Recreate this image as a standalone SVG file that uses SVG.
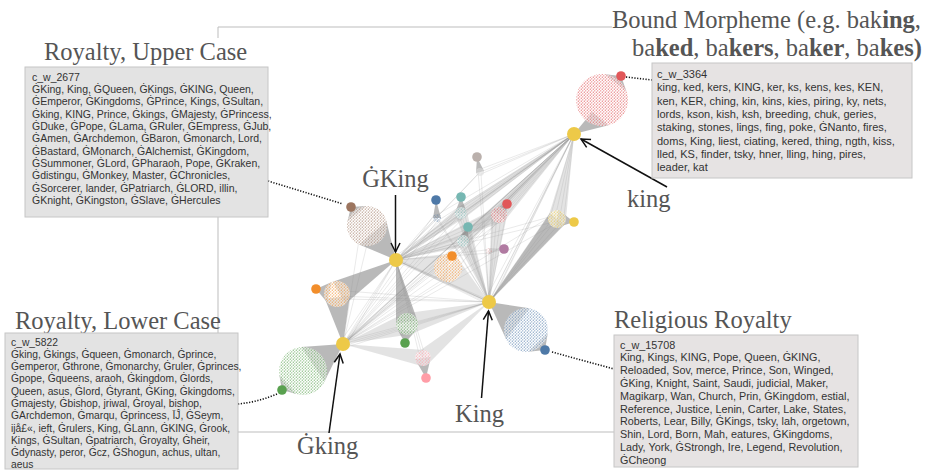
<svg xmlns="http://www.w3.org/2000/svg" width="926" height="470" viewBox="0 0 926 470">
<style>
.e{stroke:#8c8c8c;stroke-opacity:0.3;stroke-width:0.6;fill:none}
.cone{fill:#8a8a8a;fill-opacity:0.6}
.cone2{fill:#9a9a9a;fill-opacity:0.28}
.bg{fill:#fff;fill-opacity:0.6}
.box{fill:#e3e3e3;stroke:#c6c6c6;stroke-width:1}
.box2{fill:#e6e3e3;stroke:#c6c6c6;stroke-width:1}
.bt{font-family:"Liberation Sans",Arial,Helvetica,sans-serif;fill:#333}
.title{font-family:"Liberation Serif","Times New Roman",serif;font-size:24.5px;fill:#555}
.arrow{stroke:#111;stroke-width:1.5;fill:none;marker-end:url(#ah)}
.dotl{stroke:#111;stroke-width:1.6;stroke-dasharray:1.2 1.6;fill:none}
.frame{stroke:#bdbdbd;stroke-width:1;fill:none}
.hub{fill:#edc948}
</style>
<defs>
<marker id="ah" markerWidth="12" markerHeight="12" refX="10" refY="6" orient="auto" markerUnits="userSpaceOnUse">
<path d="M1,1.5 L10,6 L1,10.5" fill="none" stroke="#111" stroke-width="1.5"/>
</marker>
<pattern id="p-red" width="3" height="3" patternUnits="userSpaceOnUse"><circle cx="0.8" cy="0.8" r="0.6" fill="#e15759"/><circle cx="2.3" cy="2.2" r="0.6" fill="#e15759"/></pattern>
<pattern id="p-brown" width="3" height="3" patternUnits="userSpaceOnUse"><circle cx="0.8" cy="0.8" r="0.6" fill="#9c755f"/><circle cx="2.3" cy="2.2" r="0.6" fill="#9c755f"/></pattern>
<pattern id="p-orange" width="3" height="3" patternUnits="userSpaceOnUse"><circle cx="0.8" cy="0.8" r="0.6" fill="#f28e2b"/><circle cx="2.3" cy="2.2" r="0.6" fill="#f28e2b"/></pattern>
<pattern id="p-green" width="3" height="3" patternUnits="userSpaceOnUse"><circle cx="0.8" cy="0.8" r="0.6" fill="#59a14f"/><circle cx="2.3" cy="2.2" r="0.6" fill="#59a14f"/></pattern>
<pattern id="p-blue" width="3" height="3" patternUnits="userSpaceOnUse"><circle cx="0.8" cy="0.8" r="0.6" fill="#4e79a7"/><circle cx="2.3" cy="2.2" r="0.6" fill="#4e79a7"/></pattern>
<pattern id="p-pink" width="3" height="3" patternUnits="userSpaceOnUse"><circle cx="0.8" cy="0.8" r="0.6" fill="#ff9da7"/><circle cx="2.3" cy="2.2" r="0.6" fill="#ff9da7"/></pattern>
<pattern id="p-yellow" width="3" height="3" patternUnits="userSpaceOnUse"><circle cx="0.8" cy="0.8" r="0.6" fill="#edc948"/><circle cx="2.3" cy="2.2" r="0.6" fill="#edc948"/></pattern>
<pattern id="p-teal" width="3" height="3" patternUnits="userSpaceOnUse"><circle cx="0.8" cy="0.8" r="0.6" fill="#76b7b2"/><circle cx="2.3" cy="2.2" r="0.6" fill="#76b7b2"/></pattern>
</defs>
<rect width="926" height="470" fill="#fff"/>

<g id="frame">
<path class="frame" d="M218,27 H612 M218,27 V38 M218,217 V333 M238,432 H614"/>
</g>

<g id="connectors">
<path class="e" d="M574,134 L478,170 M574,134 L481,174 M574,134 L483,171 M574,134 L458,210 M574,134 L462,214 M574,134 L465,216 M574,134 L435,216 M574,134 L439,220 M574,134 L460,238 M574,134 L464,242 M574,134 L466,244 M574,134 L495,212 M574,134 L500,216 M574,134 L503,219 M574,134 L551,214 M574,134 L555,218 M574,134 L559,222 M574,134 L563,224 M574,134 L394,257 M574,134 L396,260 M574,134 L398,262 M574,134 L392,262 M574,134 L400,258 M574,134 L486,298 M574,134 L489,302 M574,134 L492,300 M574,134 L487,305 M574,134 L491,304 M574,134 L442,264 M574,134 L448,268 M574,134 L452,274 M574,134 L343,344 M574,134 L346,340 M574,134 L340,346"/>
<path class="e" d="M396,260 L478,174 M396,260 L482,170 M396,260 L458,210 M396,260 L461,213 M396,260 L464,216 M396,260 L434,216 M396,260 L437,219 M396,260 L440,221 M396,260 L460,238 M396,260 L463,241 M396,260 L466,244 M396,260 L494,211 M396,260 L499,215 M396,260 L503,219 M396,260 L486,250 M396,260 L490,253 M396,260 L486,299 M396,260 L489,302 M396,260 L492,305 M396,260 L487,304 M396,260 L419,354 M396,260 L423,358 M396,260 L427,362 M396,260 L341,341 M396,260 L343,344 M396,260 L345,347 M396,260 L553,216 M396,260 L558,221"/>
<path class="e" d="M489,302 L550,213 M489,302 L554,217 M489,302 L557,219 M489,302 L561,222 M489,302 L564,225 M489,302 L493,210 M489,302 L497,214 M489,302 L501,217 M489,302 L505,219 M489,302 L457,209 M489,302 L461,213 M489,302 L465,216 M489,302 L459,238 M489,302 L463,241 M489,302 L467,244 M489,302 L486,249 M489,302 L489,252 M489,302 L492,254 M489,302 L478,171 M489,302 L481,174 M489,302 L346,341 M489,302 L343,344 M489,302 L340,347 M489,302 L344,348 M489,302 L393,257 M489,302 L396,260 M489,302 L399,263 M489,302 L333,290 M489,302 L338,296 M489,302 L342,299 M489,302 L435,216 M489,302 L439,220"/>
<path class="e" d="M343,344 L457,210 M343,344 L461,213 M343,344 L464,217 M343,344 L459,238 M343,344 L463,241 M343,344 L467,244 M343,344 L434,215 M343,344 L438,220 M343,344 L495,211 M343,344 L499,215 M343,344 L503,219 M343,344 L553,215 M343,344 L558,222 M343,344 L442,262 M343,344 L448,268 M343,344 L453,273 M343,344 L362,220 M343,344 L370,232"/>
<polygon class="cone2" points="396,260 445.9,281.8 450.1,254.2"/>
<polygon class="cone2" points="489,302 456.9,257.2 439.1,278.8"/>
<polygon class="cone" points="396,260 332.8,281.7 345.5,303.8"/>
<polygon class="cone" points="343,344 349.9,295.8 324.9,298.8"/>
<polygon class="cone" points="396,260 396,324 417.4,320.4"/>
<polygon class="cone2" points="489,302 404.2,313.4 409.8,334.6"/>
<polygon class="cone2" points="343,344 410.3,334.5 403.7,313.5"/>
<polygon class="cone2" points="343,344 421.6,365.9 424.4,350.1"/>
<polygon class="cone2" points="489,302 417.8,351.9 428.2,364.1"/>
<polygon class="cone" points="489,302 564,224.7 550,213.3"/>
<polygon class="cone2" points="574,134 548.2,217.2 565.8,220.8"/>
<polygon class="cone2" points="489,302 506.9,215.9 491.1,214.1"/>
<polygon class="cone2" points="574,134 493.1,209.6 504.9,220.4"/>
<polygon class="cone2" points="396,260 502.2,222.3 495.8,207.7"/>
<polygon class="cone2" points="396,260 464.5,217.9 457.5,208.1"/>
<polygon class="cone2" points="574,134 457.6,208.1 464.4,217.9"/>
<polygon class="cone2" points="489,302 466.7,211.2 455.3,214.8"/>
<polygon class="cone2" points="396,260 464.6,246.8 461.4,235.2"/>
<polygon class="cone2" points="574,134 458.8,236.7 467.2,245.3"/>
<polygon class="cone2" points="489,302 468.5,238.6 457.5,243.4"/>
<polygon class="cone" points="574,134 608.4,125.2 576,98.5 592,112"/>
<polygon class="cone" points="396,260 386.4,221.2 359.2,244.4"/>
<polygon class="cone" points="489,302 506,339.1 529.4,308.3"/>
<polygon class="cone" points="343,344 301.3,347 324.5,381.6"/>
</g>

<g id="cluster-red">
<polygon class="cone" points="621,76 605,74.2 626.4,91.2"/>
<circle class="bg" cx="602" cy="100" r="26"/><circle cx="602" cy="100" r="26" fill="url(#p-red)" opacity="0.95"/>
<circle cx="621" cy="76" r="4.8" fill="#e15759"/>
</g>
<g id="cluster-brown">
<polygon class="cone" points="351,207 347.5,221.2 365.7,206"/>
<circle class="bg" cx="367" cy="226" r="20"/><circle cx="367" cy="226" r="20" fill="url(#p-brown)" opacity="0.85"/>
<circle cx="351" cy="207" r="4.8" fill="#9c755f"/>
</g>
<g id="cluster-orange-mid">
<circle class="bg" cx="448" cy="268" r="14"/><circle cx="448" cy="268" r="14" fill="url(#p-orange)" opacity="0.9"/>
<circle cx="452" cy="256" r="4.8" fill="#f28e2b"/>
</g>
<g id="cluster-orange-left">
<polygon class="cone" points="316,289 327,302.3 331.8,282.1"/>
<circle class="bg" cx="337" cy="294" r="13"/><circle cx="337" cy="294" r="13" fill="url(#p-orange)" opacity="0.9"/>
<circle cx="316" cy="289" r="4.8" fill="#f28e2b"/>
</g>
<g id="cluster-green-mid">
<polygon class="cone" points="405,343 415.2,331.2 397.4,329.4"/>
<circle class="bg" cx="407" cy="324" r="11"/><circle cx="407" cy="324" r="11" fill="url(#p-green)" opacity="0.9"/>
<circle cx="405" cy="343" r="4.8" fill="#59a14f"/>
</g>
<g id="cluster-blue-right">
<polygon class="cone" points="545,350 547.7,333.6 528.5,351.8"/>
<circle class="bg" cx="526" cy="330" r="22"/><circle cx="526" cy="330" r="22" fill="url(#p-blue)" opacity="0.85"/>
<circle cx="545" cy="350" r="4.8" fill="#4e79a7"/>
</g>
<g id="cluster-green-big">
<polygon class="cone" points="282,390 296.4,394.1 279.4,375.3"/>
<circle class="bg" cx="303" cy="371" r="24"/><circle cx="303" cy="371" r="24" fill="url(#p-green)" opacity="0.9"/>
<circle cx="282" cy="390" r="4.8" fill="#59a14f"/>
</g>
<g id="cluster-pink">
<polygon class="cone" points="426,378 430.9,356.8 415.1,359.2"/>
<circle class="bg" cx="423" cy="358" r="8"/><circle cx="423" cy="358" r="8" fill="url(#p-pink)" opacity="0.95"/>
<circle cx="426" cy="378" r="4.8" fill="#ff9da7"/>
</g>
<g id="cluster-yellow">
<polygon class="cone" points="574,222 558.6,210.1 555.4,227.9"/>
<circle class="bg" cx="557" cy="219" r="9"/><circle cx="557" cy="219" r="9" fill="url(#p-yellow)" opacity="0.95"/>
<circle cx="574" cy="222" r="4.8" fill="#edc948"/>
</g>
<g id="cluster-red-small">
<polygon class="cone" points="507,204 492.5,210.3 505.5,219.7"/>
<circle class="bg" cx="499" cy="215" r="8"/><circle cx="499" cy="215" r="8" fill="url(#p-red)" opacity="0.9"/>
<circle cx="507" cy="204" r="4.8" fill="#e15759"/>
</g>
<g id="cluster-teal-1">
<polygon class="cone" points="461,197 455,213 467,213"/>
<circle class="bg" cx="461" cy="213" r="6"/><circle cx="461" cy="213" r="6" fill="url(#p-teal)" opacity="0.9"/>
<circle cx="461" cy="197" r="4.8" fill="#76b7b2"/>
</g>
<g id="cluster-teal-2">
<polygon class="cone" points="468,227 457.4,239 468.6,243"/>
<circle class="bg" cx="463" cy="241" r="6"/><circle cx="463" cy="241" r="6" fill="url(#p-teal)" opacity="0.9"/>
<circle cx="468" cy="227" r="4.8" fill="#76b7b2"/>
</g>
<g id="cluster-blue-small">
<polygon class="cone" points="436,200 433,218 441,218"/>
<circle cx="437" cy="218" r="4" fill="url(#p-blue)" opacity="0.7"/>
<circle cx="436" cy="200" r="4.8" fill="#4e79a7"/>
</g>
<g id="cluster-gray">
<polygon class="cone" points="477,157 476,173 484,171"/>
<circle cx="480" cy="172" r="4" fill="#ddd" opacity="0.6"/>
<circle cx="477" cy="157" r="4.8" fill="#bab0ac"/>
</g>
<g id="cluster-purple">
<polygon class="cone2" points="504,249 489,248 489,254"/>
<circle cx="489" cy="251" r="3" fill="url(#p-red)" opacity="0.4"/>
<circle cx="504" cy="249" r="4.8" fill="#b07aa1"/>
</g>

<g id="hub-king"><circle class="hub" cx="574" cy="134" r="7"/></g>
<g id="hub-GKing"><circle class="hub" cx="396" cy="260" r="7"/></g>
<g id="hub-King"><circle class="hub" cx="489" cy="302" r="7"/></g>
<g id="hub-Gking"><circle class="hub" cx="343" cy="344" r="7"/></g>

<g id="pointers">
<line class="arrow" x1="395.5" y1="195" x2="395.5" y2="252"/>
<line class="arrow" x1="667" y1="187" x2="581" y2="139"/>
<line class="arrow" x1="329" y1="433" x2="340" y2="354"/>
<line class="arrow" x1="481.5" y1="398" x2="488.5" y2="311"/>
<path class="dotl" d="M268,181 L343,204"/>
<path class="dotl" d="M626,77 L652,80"/>
<path class="dotl" d="M238,404 Q258,402 277,394"/>
<path class="dotl" d="M552,352 L614,369"/>
</g>

<g id="labels">
<text class="title" x="44" y="60">Royalty, Upper Case</text>
<text class="title" x="612" y="28">Bound Morpheme (e.g. bak<tspan font-weight="bold">ing</tspan>,</text>
<text class="title" x="632" y="56">ba<tspan font-weight="bold">ked</tspan>, ba<tspan font-weight="bold">kers</tspan>, ba<tspan font-weight="bold">ker</tspan>, ba<tspan font-weight="bold">kes)</tspan></text>
<text class="title" x="395.5" y="187" text-anchor="middle">ĠKing</text>
<text class="title" x="627" y="207">king</text>
<text class="title" x="15" y="329">Royalty, Lower Case</text>
<text class="title" x="614" y="328">Religious Royalty</text>
<text class="title" x="455" y="422">King</text>
<text class="title" x="297" y="454">Ġking</text>
</g>

<g id="box-c_w_2677">
<rect class="box" x="25" y="67" width="243" height="150"/>
<text class="bt" font-size="10.5">
<tspan x="32" y="80.5">c_w_2677</tspan>
<tspan x="32" y="92.8">ĠKing, King, ĠQueen, ĠKings, ĠKING, Queen,</tspan>
<tspan x="32" y="105.2">ĠEmperor, ĠKingdoms, ĠPrince, Kings, ĠSultan,</tspan>
<tspan x="32" y="117.5">Ġking, KING, Prince, Ġkings, ĠMajesty, ĠPrincess,</tspan>
<tspan x="32" y="129.8">ĠDuke, ĠPope, ĠLama, ĠRuler, ĠEmpress, ĠJub,</tspan>
<tspan x="32" y="142.2">ĠAmen, ĠArchdemon, ĠBaron, Ġmonarch, Lord,</tspan>
<tspan x="32" y="154.5">ĠBastard, ĠMonarch, ĠAlchemist, ĠKingdom,</tspan>
<tspan x="32" y="166.8">ĠSummoner, ĠLord, ĠPharaoh, Pope, ĠKraken,</tspan>
<tspan x="32" y="179.2">Ġdistingu, ĠMonkey, Master, ĠChronicles,</tspan>
<tspan x="32" y="191.5">ĠSorcerer, lander, ĠPatriarch, ĠLORD, illin,</tspan>
<tspan x="32" y="203.8">ĠKnight, ĠKingston, ĠSlave, ĠHercules</tspan>
</text>
</g>

<g id="box-c_w_3364">
<rect class="box2" x="652" y="63" width="260" height="115"/>
<text class="bt" font-size="11">
<tspan x="657" y="78">c_w_3364</tspan>
<tspan x="657" y="91.3">king, ked, kers, KING, ker, ks, kens, kes, KEN,</tspan>
<tspan x="657" y="104.6">ken, KER, ching, kin, kins, kies, piring, ky, nets,</tspan>
<tspan x="657" y="117.9">lords, kson, kish, ksh, breeding, chuk, geries,</tspan>
<tspan x="657" y="131.2">staking, stones, lings, fing, poke, ĠNanto, fires,</tspan>
<tspan x="657" y="144.5">doms, King, liest, ciating, kered, thing, ngth, kiss,</tspan>
<tspan x="657" y="157.8">lled, KS, finder, tsky, hner, lling, hing, pires,</tspan>
<tspan x="657" y="171.1">leader, kat</tspan>
</text>
</g>

<g id="box-c_w_5822">
<rect class="box" x="5" y="333" width="233" height="136"/>
<text class="bt" font-size="10.3">
<tspan x="11" y="345.5">c_w_5822</tspan>
<tspan x="11" y="357.8">Ġking, Ġkings, Ġqueen, Ġmonarch, Ġprince,</tspan>
<tspan x="11" y="370.1">Ġemperor, Ġthrone, Ġmonarchy, Ġruler, Ġprinces,</tspan>
<tspan x="11" y="382.4">Ġpope, Ġqueens, araoh, Ġkingdom, Ġlords,</tspan>
<tspan x="11" y="394.7">Queen, asus, Ġlord, Ġtyrant, ĠKing, Ġkingdoms,</tspan>
<tspan x="11" y="407">Ġmajesty, Ġbishop, jriwal, Ġroyal, bishop,</tspan>
<tspan x="11" y="419.3">ĠArchdemon, Ġmarqu, Ġprincess, ĪĴ, ĠSeym,</tspan>
<tspan x="11" y="431.6">ijå£«, ieft, Ġrulers, King, ĠLann, ĠKING, Ġrook,</tspan>
<tspan x="11" y="443.9">Kings, ĠSultan, Ġpatriarch, Ġroyalty, Ġheir,</tspan>
<tspan x="11" y="456.2">Ġdynasty, peror, Ġcz, ĠShogun, achus, ultan,</tspan>
<tspan x="11" y="468">aeus</tspan>
</text>
</g>

<g id="box-c_w_15708">
<rect class="box2" x="614" y="335" width="244" height="132"/>
<text class="bt" font-size="10.8">
<tspan x="620" y="348.5">c_w_15708</tspan>
<tspan x="620" y="361.3">King, Kings, KING, Pope, Queen, ĠKING,</tspan>
<tspan x="620" y="374.1">Reloaded, Sov, merce, Prince, Son, Winged,</tspan>
<tspan x="620" y="386.9">ĠKing, Knight, Saint, Saudi, judicial, Maker,</tspan>
<tspan x="620" y="399.7">Magikarp, Wan, Church, Prin, ĠKingdom, estial,</tspan>
<tspan x="620" y="412.5">Reference, Justice, Lenin, Carter, Lake, States,</tspan>
<tspan x="620" y="425.3">Roberts, Lear, Billy, ĠKings, tsky, lah, orgetown,</tspan>
<tspan x="620" y="438.1">Shin, Lord, Born, Mah, eatures, ĠKingdoms,</tspan>
<tspan x="620" y="450.9">Lady, York, ĠStrongh, Ire, Legend, Revolution,</tspan>
<tspan x="620" y="463.7">ĠCheong</tspan>
</text>
</g>
</svg>
